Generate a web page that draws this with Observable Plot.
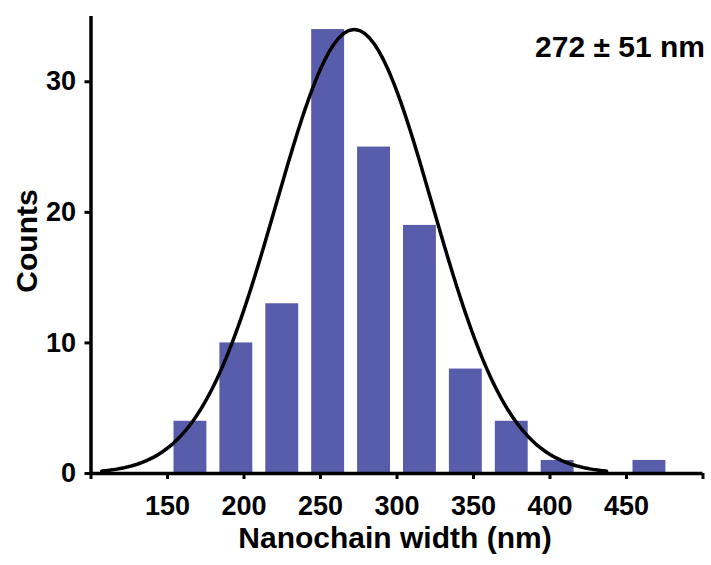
<!DOCTYPE html>
<html>
<head>
<meta charset="utf-8">
<script src="https://cdn.jsdelivr.net/npm/d3@7"></script>
<script src="https://cdn.jsdelivr.net/npm/@observablehq/plot@0.6"></script>
<style>
  html, body { margin: 0; padding: 0; background: #ffffff; }
  svg { display: block; }
</style>
</head>
<body>
<div id="chart"></div>
<script>
// Histogram of nanochain widths (bins of 30 nm) with a fitted normal curve
const binStarts = [150, 180, 210, 240, 270, 300, 330, 360, 390, 420, 450];
const counts    = [4, 10, 13, 34, 25, 19, 8, 4, 1, 0, 1];
const binWidth = 30;

// Gaussian fit parameters (mean ± sd), peak height in counts
const fitMean = 272;
const fitSd = 51;
const fitPeak = 34;
const fitFrom = 107;
const fitTo = 437;

const xTicks = [100, 150, 200, 250, 300, 350, 400, 450, 500];
const xTickLabels = ["", "150", "200", "250", "300", "350", "400", "450", ""];
const yTicks = [0, 10, 20, 30];

const bins = binStarts.map((s, i) => ({x1: s, x2: s + binWidth, count: counts[i]}));

const fit = d3.range(fitFrom, fitTo + 0.5, 1).map(x => ({
  x,
  y: fitPeak * Math.exp(-((x - fitMean) ** 2) / (2 * fitSd ** 2))
}));

const font = "'Liberation Sans', Arial, sans-serif";

const chart = Plot.plot({
  width: 711,
  height: 565,
  marginLeft: 90.5,
  marginRight: 8.5,
  marginTop: 16,
  marginBottom: 92,
  style: {fontFamily: font, fontWeight: "bold", background: "#ffffff", color: "#000"},
  x: {domain: [100, 500]},
  y: {domain: [0, 35]},
  marks: [
    Plot.rectY(bins.filter(d => d.count > 0), {
      x1: "x1", x2: "x2", y: "count",
      fill: "#585dab", insetLeft: 6.5, insetRight: 6.5
    }),
    Plot.line(fit, {x: "x", y: "y", stroke: "#000", strokeWidth: 3.5, curve: "basis"}),
    Plot.axisX({
      ticks: xTicks,
      tickFormat: (d) => xTickLabels[xTicks.indexOf(d)],
      tickSize: 6, tickPadding: 16, strokeWidth: 3,
      fontSize: 27, fontWeight: "bold", label: null
    }),
    Plot.axisY({
      ticks: yTicks,
      tickSize: 6, tickPadding: 9, strokeWidth: 3,
      fontSize: 27, fontWeight: "bold", label: null
    }),
    Plot.ruleX([100], {stroke: "#000", strokeWidth: 3.5}),
    Plot.ruleY([0], {stroke: "#000", strokeWidth: 3.5}),
    Plot.text(["Nanochain width (nm)"], {
      frameAnchor: "bottom", lineAnchor: "top", dy: 53, dx: -2,
      fontSize: 30, fontWeight: "bold", fill: "#000"
    }),
    Plot.text(["Counts"], {
      frameAnchor: "left", textAnchor: "middle", lineAnchor: "top", rotate: -90, dx: -75.5, dy: -4,
      fontSize: 30, fontWeight: "bold", fill: "#000"
    }),
    Plot.text([`${fitMean} ± ${fitSd} nm`], {
      frameAnchor: "top-right", textAnchor: "end", lineAnchor: "top", dy: 19, dx: 2,
      fontSize: 30, fontWeight: "bold", fill: "#000"
    })
  ]
});

document.getElementById("chart").append(chart);
</script>
</body>
</html>
